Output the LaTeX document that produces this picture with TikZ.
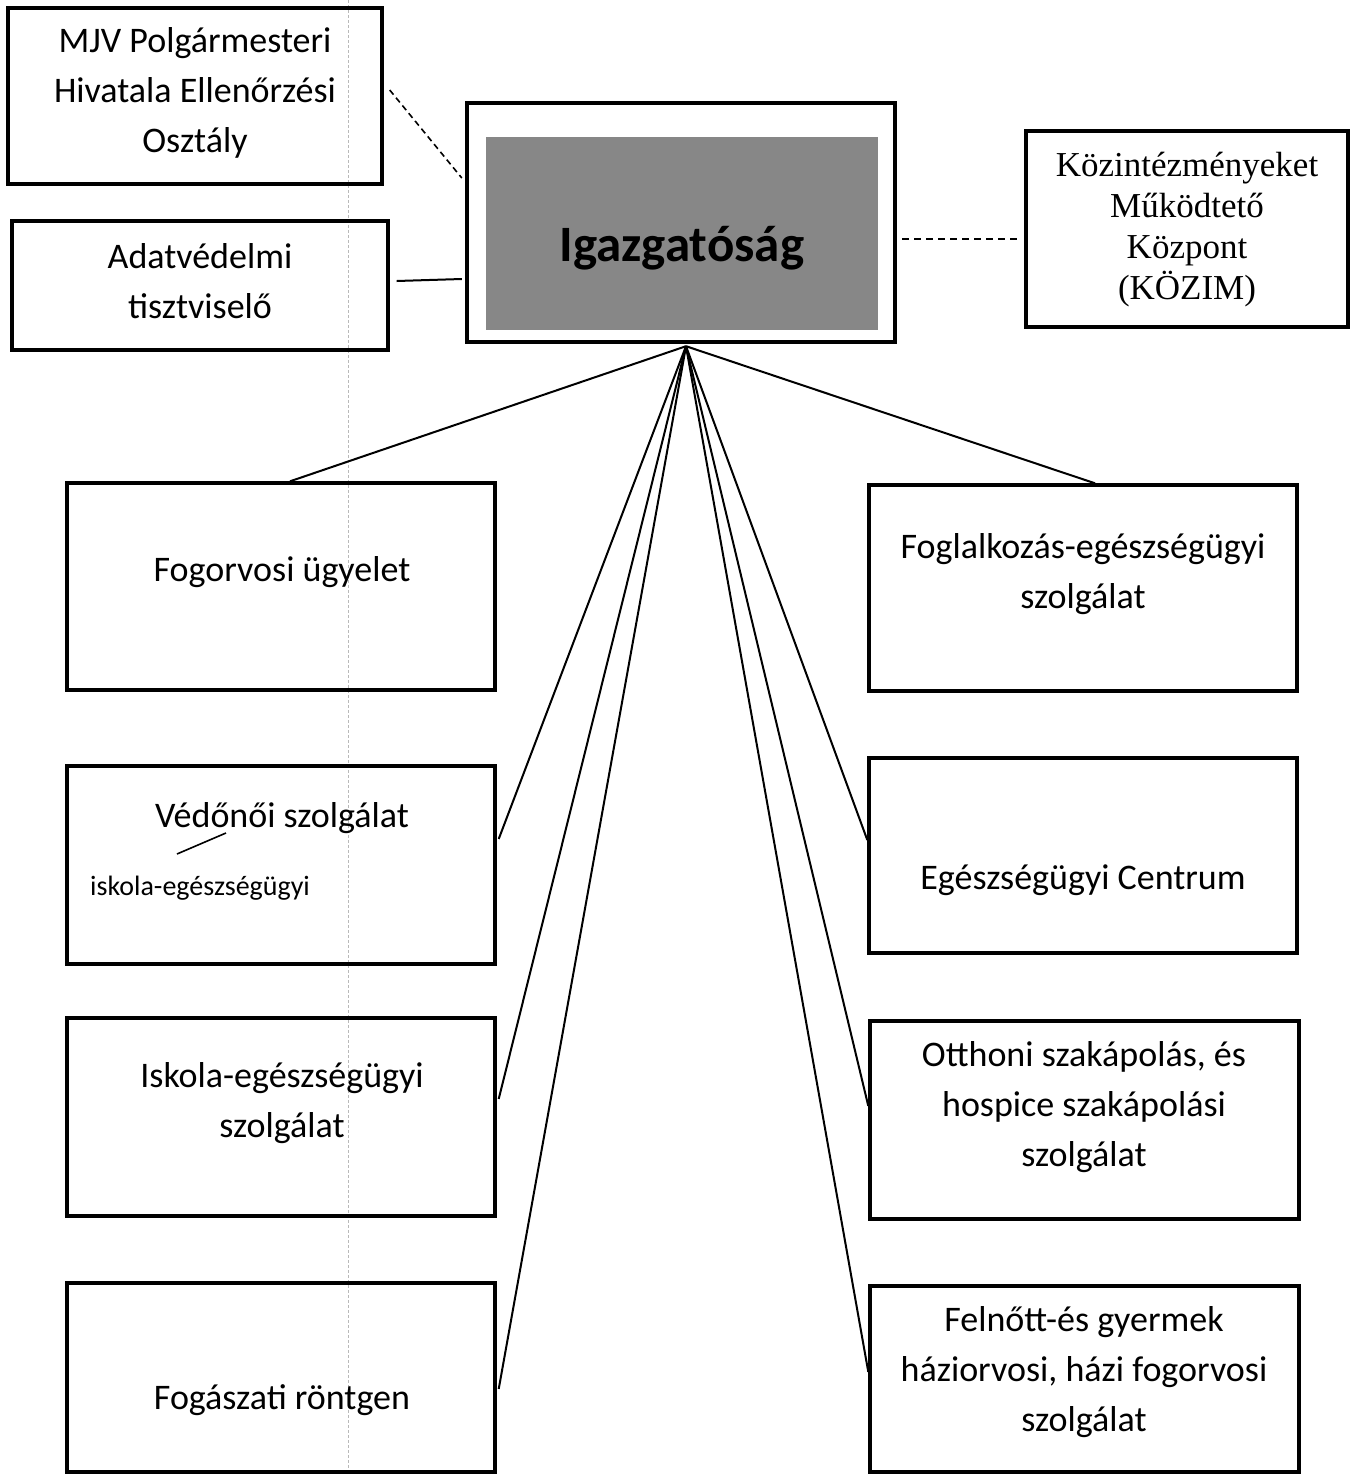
\documentclass[tikz,border=0pt]{standalone}
\usepackage{fontspec}
\setmainfont{Carlito}
\newfontfamily\tms{Liberation Serif}
\usetikzlibrary{calc}
\definecolor{igfill}{RGB}{135,135,135}
\tikzset{
  box/.style={draw=black, line width=3.4pt, rectangle, inner sep=0pt},
  lbl/.style={align=center, font=\fontsize{36}{50}\selectfont, inner sep=0pt},
  serif/.style={align=center, font=\tms\fontsize{35}{41}\selectfont, inner sep=0pt},
  conn/.style={line width=2pt},
  dconn/.style={line width=1.6pt, dash pattern=on 6pt off 4pt},
}
\begin{document}
\begin{tikzpicture}[x=1pt,y=-1pt]
\useasboundingbox[fill=white] (0,0) rectangle (1352,1475);
% scan artefact
\draw[gray!55, line width=0.8pt, dash pattern=on 3pt off 2pt] (348,0) -- (348,1475);
% top boxes
\node[box, minimum width=374pt, minimum height=176pt] (mjv) at (195,96) {};
\node[box, minimum width=376pt, minimum height=129pt] (adat) at (200,285.5) {};
\node[box, line width=4.4pt, minimum width=428pt, minimum height=239pt] (igo) at (681,222.5) {};
\node[rectangle, fill=igfill, inner sep=0pt, minimum width=392pt, minimum height=193pt] (igi) at (682,233.5) {};
\node[box, minimum width=322pt, minimum height=196pt] (kozim) at (1187,229) {};
% lower boxes
\node[box, minimum width=428pt, minimum height=207pt] (fog) at (281,586.5) {};
\node[box, minimum width=428pt, minimum height=198pt] (ved) at (281,865) {};
\node[box, minimum width=428pt, minimum height=198pt] (isk) at (281,1117) {};
\node[box, minimum width=428pt, minimum height=189pt] (ront) at (281,1377.5) {};
\node[box, minimum width=428pt, minimum height=206pt] (fogl) at (1083,588) {};
\node[box, minimum width=428pt, minimum height=195pt] (egc) at (1083,855.5) {};
\node[box, minimum width=429pt, minimum height=198pt] (ott) at (1084.5,1120) {};
\node[box, minimum width=429pt, minimum height=186pt] (feln) at (1084.5,1379) {};
% labels
\node[lbl] (tmjv) at (195,93) {MJV Polgármesteri\\Hivatala Ellenőrzési\\Osztály};
\node[lbl] (tadat) at (200,281) {Adatvédelmi\\tisztviselő};
\node[inner sep=0pt, font=\bfseries\fontsize{51}{60}\selectfont] (tig) at (682,248) {Igazgatóság};
\node[serif] (tkozim) at (1187,229.5) {Közintézményeket\\Működtető\\Központ\\(KÖZIM)};
\node[lbl] (tfog) at (282,572) {Fogorvosi ügyelet};
\node[lbl] (tved) at (282,818) {Védőnői szolgálat};
\node[inner sep=0pt, anchor=west, font=\fontsize{28}{34}\selectfont] (tved2) at (90,888) {iskola-egészségügyi};
\node[lbl] (tisk) at (282,1103) {Iskola-egészségügyi\\szolgálat};
\node[lbl] (tront) at (282,1400) {Fogászati röntgen};
\node[lbl] (tfogl) at (1083,574) {Foglalkozás-egészségügyi\\szolgálat};
\node[lbl] (tegc) at (1083,880) {Egészségügyi Centrum};
\node[lbl] (tott) at (1084,1107) {Otthoni szakápolás, és\\hospice szakápolási\\szolgálat};
\node[lbl] (tfeln) at (1084,1372) {Felnőtt-és gyermek\\háziorvosi, házi fogorvosi\\szolgálat};
% stray pen stroke
\draw[line width=1.6pt] (177,854) -- (226,833);
% connectors
\draw[dconn] ($(mjv.east)+(6,-6)$) -- ($(igo.west)+(-3,-44.5)$);
\draw[conn] ($(adat.east)+(7,-4.5)$) -- ($(igo.west)+(-3,56.5)$);
\draw[dconn, dash pattern=on 7pt off 5pt] ($(igo.east)+(5,16.5)$) -- ($(kozim.west)+(-6,10)$);
\coordinate (apex) at ($(igo.south)+(5,2)$);
\draw[conn] (apex) -- ($(fog.north)+(9,0)$);
\draw[conn] (apex) -- ($(ved.east)+(2,-26)$);
\draw[conn] (apex) -- ($(isk.east)+(2,-18)$);
\draw[conn] (apex) -- ($(ront.east)+(2,11.5)$);
\draw[conn] (apex) -- ($(fogl.north)+(12,0)$);
\draw[conn] (apex) -- ($(egc.west)+(0,-15.5)$);
\draw[conn] (apex) -- ($(ott.west)+(0,-14)$);
\draw[conn] (apex) -- ($(feln.west)+(0,-7)$);
\end{tikzpicture}
\end{document}
